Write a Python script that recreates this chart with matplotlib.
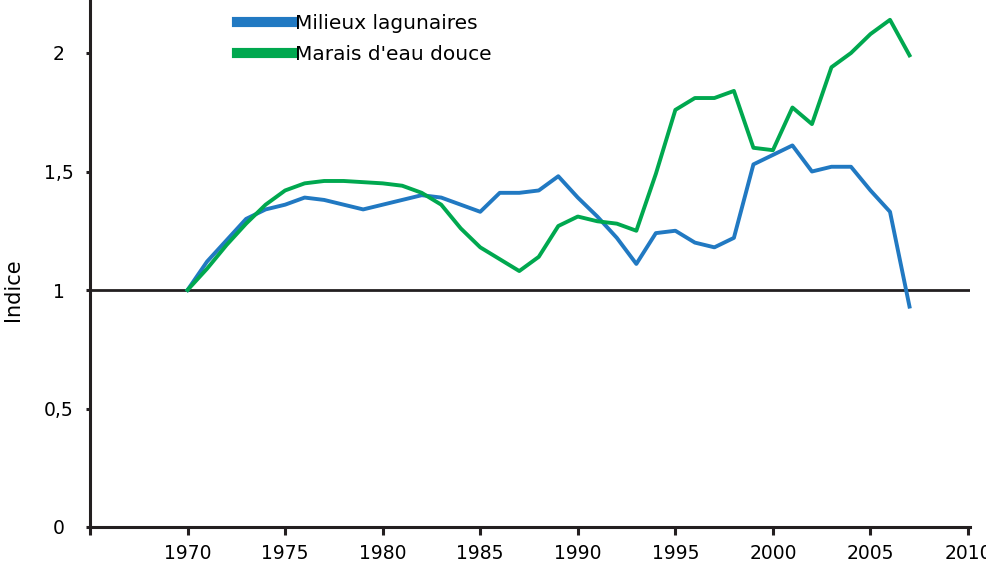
import matplotlib.pyplot as plt
import numpy as np

plt.rcParams['font.family'] = ['DejaVu Sans']

years = np.arange(1970, 2008)
lagunaires = [1.00, 1.12, 1.21, 1.30, 1.34, 1.36, 1.39, 1.38, 1.36, 1.34,
              1.36, 1.38, 1.40, 1.39, 1.36, 1.33, 1.41, 1.41, 1.42, 1.48,
              1.39, 1.31, 1.22, 1.11, 1.24, 1.25, 1.20, 1.18, 1.22, 1.53,
              1.57, 1.61, 1.50, 1.52, 1.52, 1.42, 1.33, 0.93]
eau_douce = [1.00, 1.09, 1.19, 1.28, 1.36, 1.42, 1.45, 1.46, 1.46, 1.455,
             1.45, 1.44, 1.41, 1.36, 1.26, 1.18, 1.13, 1.08, 1.14, 1.27,
             1.31, 1.29, 1.28, 1.25, 1.49, 1.76, 1.81, 1.81, 1.84, 1.60,
             1.59, 1.77, 1.70, 1.94, 2.00, 2.08, 2.14, 1.99]

yticks = [0, 0.5, 1, 1.5, 2]
ylabels = ["0", "0,5", "1", "1,5", "2"]
xticks = np.arange(1965, 2011, 5)
xlabels = [""] + [str(x) for x in xticks[1:]]

blue = "#2179c2"
green = "#00a84f"
dark = "#231f20"

fig = plt.figure(figsize=(9.86, 5.66), dpi=100)
ax = fig.add_axes([90/986, 1 - 527/566, 880/986, 527/566])

ax.plot(years, lagunaires, color=blue, lw=2.8, label="Milieux lagunaires", zorder=3)
ax.plot(years, eau_douce, color=green, lw=2.8, label="Marais d'eau douce", zorder=3)
ax.axhline(1, color=dark, lw=2.0, zorder=2)

ax.set_xlim(1965, 2010.1)
ax.set_ylim(0, 527/237)
ax.set_xticks(xticks)
ax.set_xticklabels(xlabels)
ax.set_yticks(yticks)
ax.set_yticklabels(ylabels)
ax.tick_params(axis="x", length=6, width=2.2, color=dark, labelsize=13.5, pad=6)
ax.tick_params(axis="y", length=3, width=2.2, color=dark, labelsize=13.5, pad=19.3)
for t in ax.get_yticklabels():
    t.set_ha("center")
ax.set_ylabel("Indice", fontsize=15)
ax.yaxis.set_label_coords(-67/880, (527 - 290) / 527)

for s in ["top", "right"]:
    ax.spines[s].set_visible(False)
for s in ["left", "bottom"]:
    ax.spines[s].set_linewidth(2.2)
    ax.spines[s].set_color(dark)

leg = ax.legend(loc="upper left", bbox_to_anchor=(0.147, 1.008), frameon=False,
                fontsize=14.5, handlelength=2.8, handletextpad=0.05, labelspacing=0.6)
for l in leg.get_lines():
    l.set_linewidth(7.3)

fig.savefig("out.png", dpi=100)
